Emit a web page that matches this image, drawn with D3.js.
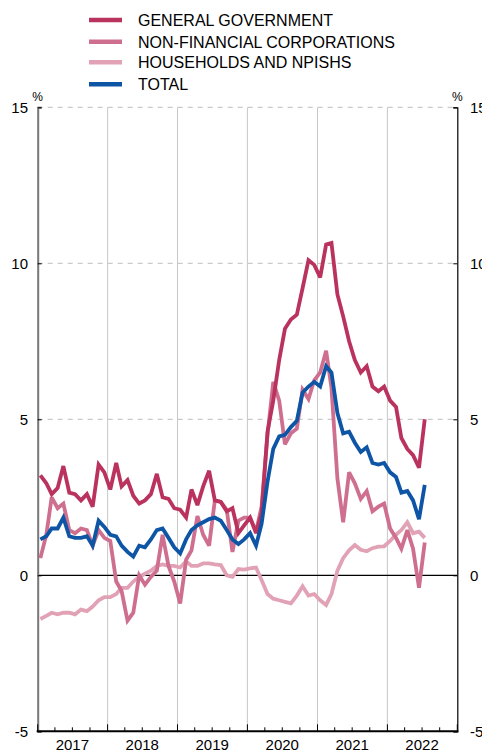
<!DOCTYPE html>
<html>
<head>
<meta charset="utf-8">
<script src="https://cdn.jsdelivr.net/npm/d3@7"></script>
<style>
  body { margin: 0; background: #fff; }
  svg { display: block; font-family: "Liberation Sans", Arial, sans-serif; }
  .tick-label { font-size: 15px; fill: #000; }
  .legend-text { font-size: 16px; fill: #000; }
</style>
</head>
<body>
<script>
// monthly data, Jan 2017 - Jul 2022 (%)
var years = [2017, 2018, 2019, 2020, 2021, 2022];
var yTicks = [-5, 0, 5, 10, 15];

var seriesNames = ["GENERAL GOVERNMENT", "NON-FINANCIAL CORPORATIONS", "HOUSEHOLDS AND NPISHS", "TOTAL"];
var seriesColors = ["#b9335e", "#cf6f8f", "#e2a2b6", "#0e55a5"];

var generalGovernment = [
  3.2, 2.95, 2.6, 2.8, 3.5, 2.65, 2.6, 2.4, 2.6, 2.2, 3.55, 3.3,
  2.75, 3.6, 2.85, 3.05, 2.55, 2.3, 2.4, 2.6, 3.25, 2.5, 2.45, 2.15,
  2.1, 1.85, 2.75, 2.25, 2.85, 3.35, 2.4, 2.35, 2.05, 2.15, 1.35, 1.6,
  1.85, 1.35, 2.0, 4.6, 5.6, 6.9, 7.9, 8.2, 8.35, 9.2, 10.1, 9.95,
  9.55, 10.6, 10.65, 9.0, 8.3, 7.5, 6.9, 6.5, 6.7, 6.05, 5.9, 6.05,
  5.6, 5.4, 4.4, 4.05, 3.85, 3.45, 5.0
];
var nonFinancial = [
  0.55, 1.3, 2.5, 2.15, 2.3, 1.45, 1.35, 1.5, 1.45, 0.95, 1.45, 1.2,
  1.1, -0.2, -0.5, -1.45, -1.2, 0.0, -0.3, -0.05, 0.15, 1.3, 0.3, -0.2,
  -0.9, 0.5, 0.8, 1.9, 1.3, 0.95, 2.4, 2.35, 2.1, 0.75, 1.75, 1.85,
  1.85, 1.4, 2.2, 4.5, 6.2, 5.6, 4.2, 4.55, 4.7, 5.95, 5.65, 6.25,
  6.5, 7.2, 6.0, 3.1, 1.7, 3.3, 2.95, 2.45, 2.7, 2.05, 2.2, 2.3,
  1.5, 1.2, 0.85, 1.45, 0.85, -0.4, 1.05
];
var households = [
  -1.4, -1.3, -1.2, -1.25, -1.2, -1.2, -1.25, -1.1, -1.15, -1.0, -0.8, -0.7,
  -0.7, -0.6, -0.4, -0.4, -0.2, -0.05, 0.05, 0.15, 0.3, 0.35, 0.3, 0.3,
  0.25, 0.45, 0.3, 0.3, 0.38, 0.38, 0.35, 0.33, 0.0, -0.05, 0.2, 0.18,
  0.22, 0.25, -0.15, -0.6, -0.75, -0.8, -0.85, -0.9, -0.65, -0.35, -0.65, -0.6,
  -0.8, -0.95, -0.6, 0.15, 0.55, 0.8, 0.97, 0.82, 0.77, 0.87, 0.92, 0.93,
  1.1, 1.3, 1.45, 1.7, 1.35, 1.4, 1.2
];
var total = [
  1.15, 1.25, 1.5, 1.5, 1.85, 1.25, 1.2, 1.2, 1.25, 0.95, 1.75, 1.55,
  1.3, 1.25, 0.95, 0.75, 0.6, 0.95, 0.9, 1.15, 1.45, 1.5, 1.2, 0.9,
  0.7, 1.15, 1.45, 1.6, 1.7, 1.8, 1.85, 1.75, 1.45, 1.15, 1.0, 1.15,
  1.35, 0.95, 1.65, 3.0, 4.05, 4.45, 4.5, 4.75, 4.95, 5.85, 6.05, 6.2,
  6.05, 6.7, 6.5, 5.2, 4.55, 4.6, 4.25, 3.95, 4.1, 3.6, 3.55, 3.6,
  3.3, 3.15, 2.65, 2.7, 2.4, 1.8, 2.9
];

var allSeries = [generalGovernment, nonFinancial, households, total];

// dimensions
var width = 482, height = 751;
var plot = { left: 37.7, right: 457.3, top: 107.3, bottom: 731.3 };

var svg = d3.select("body").append("svg")
    .attr("width", width)
    .attr("height", height);

var xScale = d3.scaleTime()
    .domain([new Date(2017, 0, 1), new Date(2023, 0, 1)])
    .range([plot.left, plot.right]);

var yScale = d3.scaleLinear()
    .domain([-5, 15])
    .range([plot.bottom, plot.top]);

var months = d3.timeMonth.range(new Date(2017, 0, 1), new Date(2022, 7, 1))
    .map(function (d) { return new Date(d.getFullYear(), d.getMonth(), 15); });

// horizontal dashed grid
svg.append("g").selectAll("line")
    .data([5, 10, 15])
    .enter().append("line")
    .attr("x1", plot.left)
    .attr("x2", plot.right)
    .attr("y1", function (d) { return yScale(d); })
    .attr("y2", function (d) { return yScale(d); })
    .attr("stroke", "#bdbdbd")
    .attr("stroke-width", 1)
    .attr("stroke-dasharray", "5,5");

// vertical year separators
svg.append("g").selectAll("line")
    .data(years.slice(1))
    .enter().append("line")
    .attr("x1", function (d) { return xScale(new Date(d, 0, 1)); })
    .attr("x2", function (d) { return xScale(new Date(d, 0, 1)); })
    .attr("y1", plot.top)
    .attr("y2", plot.bottom)
    .attr("stroke", "#c8c8c8")
    .attr("stroke-width", 1);

// zero line
svg.append("line")
    .attr("x1", plot.left)
    .attr("x2", plot.right)
    .attr("y1", yScale(0))
    .attr("y2", yScale(0))
    .attr("stroke", "#000")
    .attr("stroke-width", 1.2);

// left axis
var leftAxis = svg.append("g")
    .attr("transform", "translate(" + plot.left + ",0)")
    .call(d3.axisRight(yScale).tickValues(yTicks).tickSize(4).tickFormat(""));
leftAxis.select(".domain").attr("stroke", "#777").attr("stroke-width", 2);
leftAxis.selectAll(".tick line").attr("stroke", "#000");

// right axis
var rightAxis = svg.append("g")
    .attr("transform", "translate(" + plot.right + ",0)")
    .call(d3.axisLeft(yScale).tickValues(yTicks).tickSize(4).tickFormat(""));
rightAxis.select(".domain").attr("stroke", "#000").attr("stroke-width", 1.2);

svg.append("g").selectAll("text")
    .data(yTicks)
    .enter().append("text")
    .attr("class", "tick-label")
    .attr("x", 28)
    .attr("y", function (d) { return yScale(d) + 5.5; })
    .attr("text-anchor", "end")
    .text(function (d) { return d; });

svg.append("g").selectAll("text")
    .data(yTicks)
    .enter().append("text")
    .attr("class", "tick-label")
    .attr("x", 470)
    .attr("y", function (d) { return yScale(d) + 5.5; })
    .text(function (d) { return d; });

// % unit labels
svg.append("text").attr("x", plot.left).attr("y", 101)
    .attr("text-anchor", "middle").style("font-size", "12px").text("%");
svg.append("text").attr("x", plot.right).attr("y", 101)
    .attr("text-anchor", "middle").style("font-size", "12px").text("%");

// bottom axis with year ticks and quarter ticks
var quarters = d3.timeMonth.every(3).range(new Date(2017, 0, 1), new Date(2023, 0, 2));
svg.append("g").selectAll("line")
    .data(quarters)
    .enter().append("line")
    .attr("x1", function (d) { return xScale(d); })
    .attr("x2", function (d) { return xScale(d); })
    .attr("y1", plot.bottom)
    .attr("y2", function (d) { return plot.bottom - (d.getMonth() === 0 ? 7 : 4); })
    .attr("stroke", "#000")
    .attr("stroke-width", 1);

svg.append("line")
    .attr("x1", plot.left - 1)
    .attr("x2", plot.right + 1)
    .attr("y1", plot.bottom)
    .attr("y2", plot.bottom)
    .attr("stroke", "#000")
    .attr("stroke-width", 2);

svg.append("g").selectAll("text")
    .data(years)
    .enter().append("text")
    .attr("class", "tick-label")
    .attr("x", function (d) { return xScale(new Date(d, 6, 1)); })
    .attr("y", 750)
    .attr("text-anchor", "middle")
    .text(function (d) { return d; });

// data lines
var line = d3.line()
    .x(function (d, i) { return xScale(months[i]); })
    .y(function (d) { return yScale(d); });

var drawOrder = [2, 1, 0, 3];
drawOrder.forEach(function (k) {
    svg.append("path")
        .datum(allSeries[k])
        .attr("d", line)
        .attr("fill", "none")
        .attr("stroke", seriesColors[k])
        .attr("stroke-width", 3.8)
        .attr("stroke-linejoin", "miter")
        .attr("stroke-miterlimit", 3);
});

// legend
var legendY = [20, 41.7, 62.3, 84.3];
var legend = svg.append("g").selectAll("g")
    .data(seriesNames)
    .enter().append("g")
    .attr("transform", function (d, i) { return "translate(0," + legendY[i] + ")"; });

legend.append("line")
    .attr("x1", 89)
    .attr("x2", 122)
    .attr("stroke", function (d, i) { return seriesColors[i]; })
    .attr("stroke-width", 4.5);

legend.append("text")
    .attr("class", "legend-text")
    .attr("x", 138)
    .attr("y", 5.8)
    .text(function (d) { return d; });
</script>
</body>
</html>
